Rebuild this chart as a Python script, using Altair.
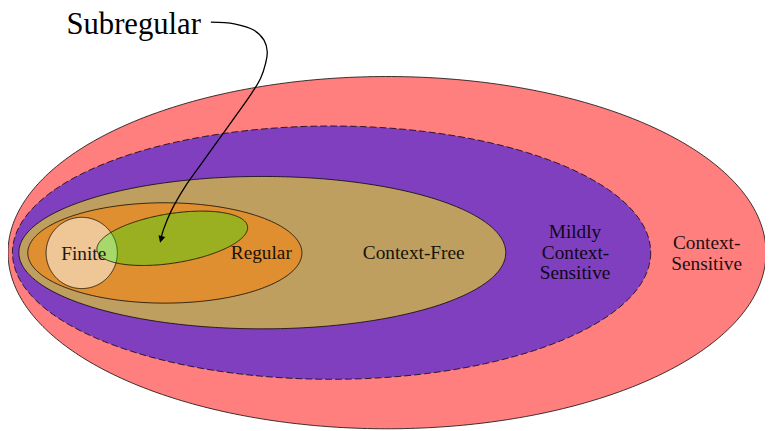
import altair as alt
import numpy as np
import pandas as pd

# ---- nested language classes (reference pixel units) ----
set_names = ["Context-Sensitive", "Mildly Context-Sensitive", "Context-Free",
             "Regular", "Finite", "Subregular"]
center_x = [391.0, 335.0, 265.0, 166.5, 82.5, 174.0]
center_y = [253.0, 253.0, 253.0, 253.3, 253.3, 238.5]
radius_x = [383.0, 322.5, 246.0, 138.5, 36.0, 77.0]
radius_y = [178.0, 128.0, 77.0, 50.7, 36.0, 25.0]
rotation_deg = [0, 0, 0, 0, 0, 9]
fill_colors = ["#ff0000", "#0000ff", "#ffff00", "#ff8000", "#ffffff", "#00ff00"]
fill_opacities = [0.5, 0.5, 0.5, 0.5, 0.5, 0.3]
dashed_border = [False, True, False, False, False, False]

# ---- labels ----
label_text = ["Finite", "Regular", "Context-Free", "Mildly", "Context-", "Sensitive",
              "Context-", "Sensitive"]
label_x = [84.5, 264.0, 418.0, 581.0, 581.5, 581.0, 714.0, 714.0]
label_y = [260.0, 259.0, 259.5, 238.5, 259.5, 280.0, 249.5, 270.5]

title_text = ["Subregular"]
title_x = [135.0]
title_y = [32.0]

# ---- arrow path ----
arrow_x = [213.0, 236.7, 256.7, 266.7, 270.0, 268.3, 263.3, 253.3, 236.7, 220.0,
           203.3, 186.7, 173.3, 165.0, 162.8]
arrow_y = [20.0, 21.7, 28.3, 38.3, 50.0, 61.7, 76.7, 93.3, 116.7, 140.0,
           163.3, 186.7, 210.0, 230.0, 238.0]
head_x = [162.6]
head_y = [239.6]

W, H = 765, 423
xs = alt.Scale(domain=[8, 773], nice=False, zero=False)
ys = alt.Scale(domain=[8, 431], nice=False, zero=False, reverse=True)


def outline(i):
    t = np.linspace(0, 2 * np.pi, 400)
    th = np.deg2rad(rotation_deg[i])
    ex = radius_x[i] * np.cos(t)
    ey = radius_y[i] * np.sin(t)
    px = center_x[i] + ex * np.cos(th) + ey * np.sin(th)
    py = center_y[i] - ex * np.sin(th) + ey * np.cos(th)
    return pd.DataFrame({"x": px, "y": py, "k": np.arange(len(t)), "name": set_names[i]})


layers = []
for i in range(len(set_names)):
    kw = dict(fill=fill_colors[i], fillOpacity=fill_opacities[i], stroke="black",
              strokeWidth=0.9, strokeOpacity=0.85, interpolate="linear", clip=False)
    if dashed_border[i]:
        kw["strokeDash"] = [7, 3]
    layers.append(
        alt.Chart(outline(i)).mark_line(**kw).encode(
            x=alt.X("x:Q", scale=xs, axis=None),
            y=alt.Y("y:Q", scale=ys, axis=None),
            order=alt.Order("k:Q"),
        )
    )

labels = alt.Chart(pd.DataFrame({"t": label_text, "x": label_x, "y": label_y})).mark_text(
    font="Liberation Serif", fontSize=19.5, align="center", baseline="alphabetic",
    color="black", opacity=0.88
).encode(x=alt.X("x:Q", scale=xs, axis=None), y=alt.Y("y:Q", scale=ys, axis=None), text="t:N")

title = alt.Chart(pd.DataFrame({"t": title_text, "x": title_x, "y": title_y})).mark_text(
    font="Liberation Serif", fontSize=31, align="center", baseline="alphabetic", color="black"
).encode(x=alt.X("x:Q", scale=xs, axis=None), y=alt.Y("y:Q", scale=ys, axis=None), text="t:N")

arrow = alt.Chart(pd.DataFrame({"x": arrow_x, "y": arrow_y, "k": range(len(arrow_x))})).mark_line(
    interpolate="catmull-rom", stroke="black", strokeWidth=1.3, clip=False
).encode(x=alt.X("x:Q", scale=xs, axis=None), y=alt.Y("y:Q", scale=ys, axis=None),
         order=alt.Order("k:Q"))

head = alt.Chart(pd.DataFrame({"x": head_x, "y": head_y})).mark_point(
    shape="M0,1L-1,-1L1,-1Z", size=49, angle=15, filled=True, fill="black",
    opacity=1, strokeWidth=0
).encode(x=alt.X("x:Q", scale=xs, axis=None), y=alt.Y("y:Q", scale=ys, axis=None))

chart = alt.layer(*layers, labels, arrow, head, title).properties(
    width=W, height=H, padding=0, background="white",
    autosize=alt.AutoSizeParams(type="none")
).configure_view(stroke=None)

chart.save("out.html", embed_options={"renderer": "svg", "actions": False})
